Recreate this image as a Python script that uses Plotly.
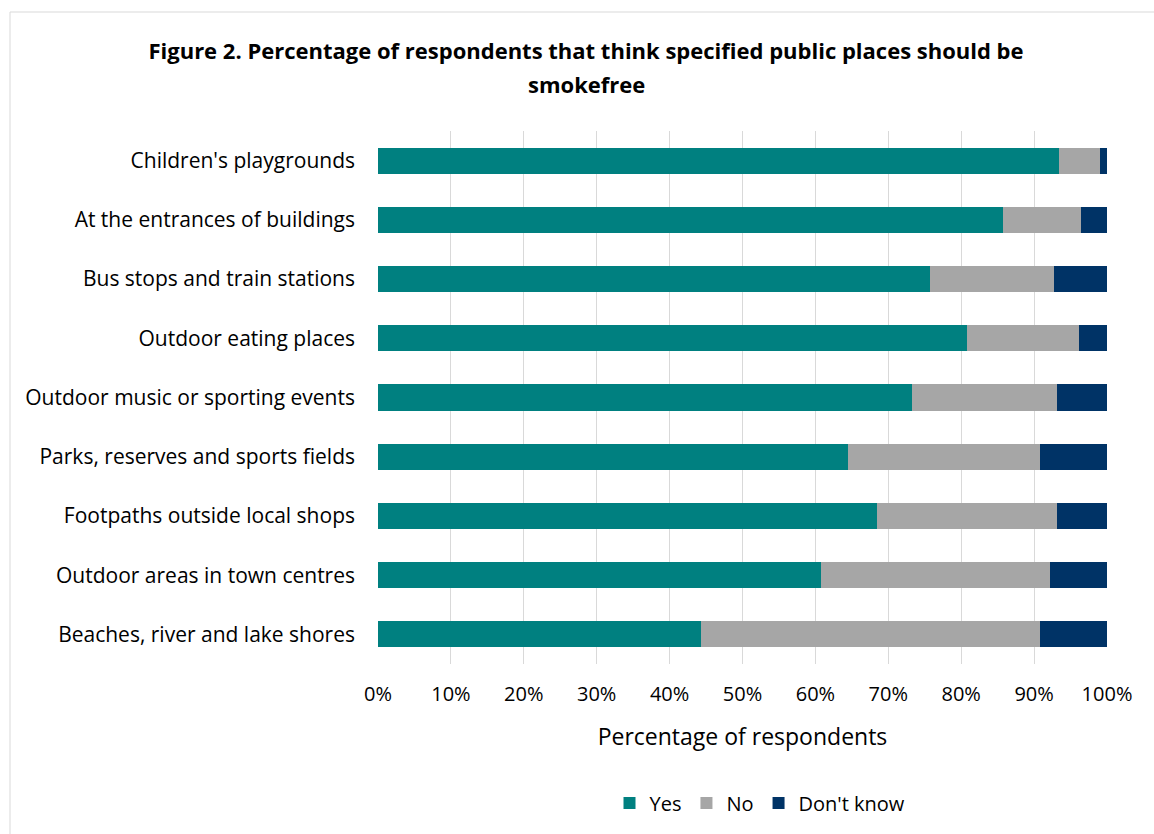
import plotly.graph_objects as go

categories = [
    "Children's playgrounds",
    "At the entrances of buildings",
    "Bus stops and train stations",
    "Outdoor eating places",
    "Outdoor music or sporting events",
    "Parks, reserves and sports fields",
    "Footpaths outside local shops",
    "Outdoor areas in town centres",
    "Beaches, river and lake shores",
]
yes = [93.4, 85.8, 75.7, 80.8, 73.2, 64.5, 68.4, 60.7, 44.3]
no = [5.6, 10.7, 17.0, 15.4, 20.0, 26.3, 24.8, 31.5, 46.5]
dont_know = [1.0, 3.5, 7.3, 3.8, 6.8, 9.2, 6.8, 7.8, 9.2]
x_ticks = [0, 10, 20, 30, 40, 50, 60, 70, 80, 90, 100]
x_tick_labels = [f"{v}%" for v in x_ticks]
title_line1 = "Figure 2. Percentage of respondents that think specified public places should be"
title_line2 = "smokefree"

FONT = "Open Sans"
fig = go.Figure()
for name, vals, color in [("Yes", yes, "#008080"), ("No", no, "#A6A6A6"), ("Don't know", dont_know, "#003366")]:
    fig.add_trace(go.Bar(y=categories, x=vals, name=name, orientation="h",
                         marker=dict(color=color, line=dict(width=0))))

L, R, T, B = 378, 47, 131, 170
W, H = 1154, 834
pw, ph = W - L - R, H - T - B

fig.update_layout(
    width=W, height=H,
    barmode="stack", bargap=0.56,
    margin=dict(l=L, r=R, t=T, b=B),
    paper_bgcolor="white", plot_bgcolor="white",
    font=dict(family=FONT, color="#000000"),
    title=dict(text=f"<b>{title_line1}</b>",
               x=586 / W, xanchor="center", y=1 - 51 / H, yanchor="middle",
               font=dict(size=22, family=FONT, color="#000000")),
    annotations=[dict(text=f"<b>{title_line2}</b>", xref="paper", yref="paper",
                      x=(586 - L) / pw, y=(H - B - 84) / ph, xanchor="center", yanchor="middle",
                      showarrow=False, font=dict(size=22, family=FONT, color="#000000"))],
    xaxis=dict(range=[0, 100], tickvals=x_ticks, ticktext=x_tick_labels,
               showgrid=True, gridcolor="#D9D9D9", gridwidth=1, zeroline=False,
               showline=False, ticks="", tickfont=dict(size=20, family=FONT),
               ticklabelstandoff=16,
               title=dict(text="Percentage of respondents", font=dict(size=23, family=FONT), standoff=22)),
    yaxis=dict(autorange="reversed", showgrid=False, showline=False, ticks="",
               tickfont=dict(size=21, family=FONT), ticklabelstandoff=22),
    legend=dict(orientation="h", x=760 / W, xanchor="center", xref="container",
                y=1 - 803 / H, yanchor="middle", yref="container",
                font=dict(size=20, family=FONT), traceorder="normal",
                itemsizing="constant"),
    shapes=[dict(type="rect", xref="paper", yref="paper",
                 x0=(10 - L) / pw, x1=(1160 - L) / pw,
                 y0=(H - B - 845) / ph, y1=(H - B - 12) / ph,
                 line=dict(color="#D9D9D9", width=1), fillcolor="rgba(0,0,0,0)", layer="below")],
)

fig.write_html("out.html")
